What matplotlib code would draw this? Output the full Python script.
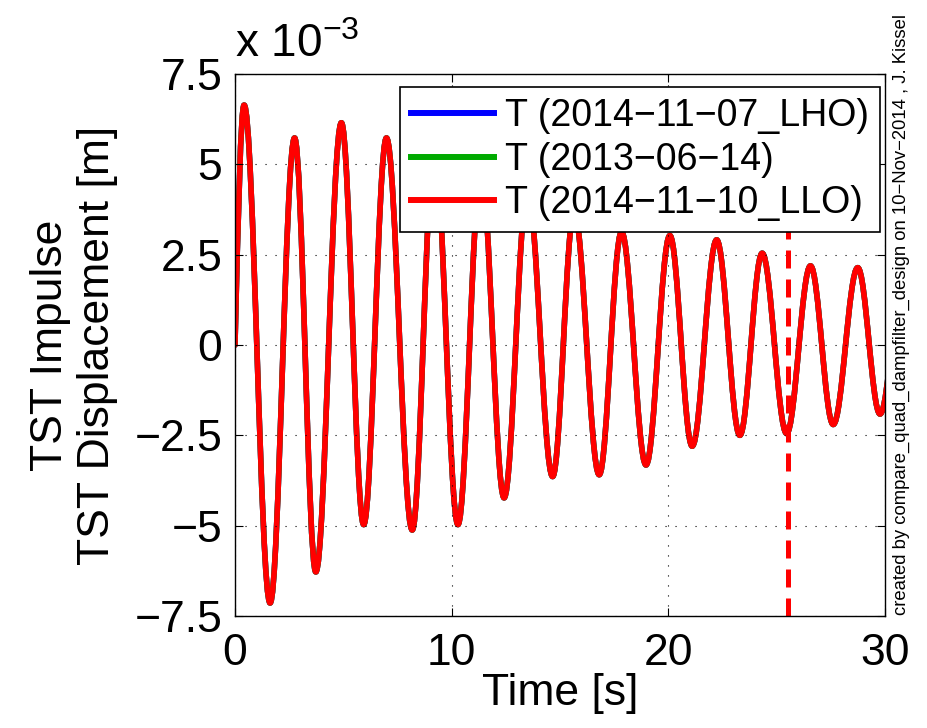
import numpy as np
import matplotlib
matplotlib.use("Agg")
import matplotlib.pyplot as plt
from matplotlib.path import Path
from matplotlib.patches import PathPatch
from matplotlib.lines import Line2D

plt.rcParams["font.family"] = ["Liberation Sans", "DejaVu Sans"]
plt.rcParams["mathtext.default"] = "regular"

# extrema of the impulse response (time [s], displacement [1e-3 m])
ext_t = [0.0, 0.42, 1.62, 2.75, 3.73, 4.91, 5.94, 6.99, 8.18, 9.2, 10.29, 11.35,
         12.42, 13.5, 14.66, 15.65, 16.81, 17.84, 18.97, 20.07, 21.1, 22.23,
         23.3, 24.33, 25.46, 26.56, 27.61, 28.74, 29.77, 30.85]
ext_y = [0.0, 6.64, -7.14, 5.73, -6.28, 6.15, -4.97, 5.73, -5.12, 5.4, -4.97, 4.8,
         -4.23, 4.3, -3.64, 3.7, -3.59, 3.13, -3.32, 3.03, -2.80, 2.91,
         -2.50, 2.54, -2.45, 2.19, -2.20, 2.14, -1.91, 2.0]

labels = ["T (2014\u221211\u221207_LHO)", "T (2013\u221206\u221214)", "T (2014\u221211\u221210_LLO)"]
colors = ["#0000ff", "#00aa00", "#ff0000"]
t_marker = 25.5

yticks = [-7.5, -5, -2.5, 0, 2.5, 5, 7.5]
ytick_labels = ["\u22127.5", "\u22125", "\u22122.5", "0", "2.5", "5", "7.5"]
xticks = [0, 10, 20, 30]


def response_path(ts, ys):
    # smooth curve through the extrema: cubic bezier with flat tangents at peaks
    verts = [(ts[0], ys[0])]
    codes = [Path.MOVETO]
    for i in range(1, len(ts)):
        t0, y0, t1, y1 = ts[i - 1], ys[i - 1], ts[i], ys[i]
        dt = t1 - t0
        if i == 1:
            c1 = (t0 + dt / 3, y0 + (y1 - y0) * 0.52)
        else:
            c1 = (t0 + 0.364 * dt, y0)
        c2 = (t1 - 0.364 * dt, y1)
        verts += [c1, c2, (t1, y1)]
        codes += [Path.CURVE4] * 3
    return Path(verts, codes)


fig = plt.figure(figsize=(9.27, 7.28), dpi=100)
ax = fig.add_axes([0.2535, 0.1538, 0.7012, 0.7446])

handles = []
for lab, col in zip(labels, colors):
    patch = PathPatch(response_path(ext_t, ext_y), facecolor="none", edgecolor=col,
                      lw=4, capstyle="round", joinstyle="round")
    ax.add_patch(patch)
    handles.append(Line2D([], [], color=col, lw=4.3))

# dashed marker, its top part sits under the legend
ax.vlines(t_marker, -7.5, 4.0, color="#ff0000", lw=3.6, linestyle=(0, (3.6, 2.2)))

ax.set_xlim(0, 30)
ax.set_ylim(-7.5, 7.5)
ax.set_xticks(xticks)
ax.set_yticks(yticks)
ax.set_yticklabels(ytick_labels)
ax.tick_params(direction="in", length=6, width=0.8, labelsize=32,
               top=True, right=True, pad=9)
ax.tick_params(axis="x", pad=12)
ax.grid(True, color="black", lw=0.8, linestyle=(0, (1, 8)))
for sp in ax.spines.values():
    sp.set_linewidth(1.0)

ax.set_xlabel("Time [s]", fontsize=32)
ax.xaxis.set_label_coords(0.5, -0.105)
ax.set_ylabel("TST Impulse\nTST Displacement [m]", fontsize=32, linespacing=1.2)
ax.yaxis.set_label_coords(-0.18, 0.5)

ax.text(0.0, 1.012, "x 10$^{\u22123}$", transform=ax.transAxes, fontsize=33,
        ha="left", va="bottom")

leg = ax.legend(handles, labels, loc="upper right", bbox_to_anchor=(0.993, 0.976),
                fontsize=27, labelspacing=0.2, borderpad=0.3, handlelength=2.2,
                handletextpad=0.3, borderaxespad=0, fancybox=False, framealpha=1)
leg.get_frame().set_edgecolor("black")
leg.get_frame().set_linewidth(1.2)

fig.text(0.972, 0.155, "created by compare_quad_dampfilter_design on 10\u2212Nov\u22122014 , J. Kissel",
         rotation=90, fontsize=13.3, ha="center", va="bottom")

fig.savefig("out.png", dpi=100)
plt.close(fig)
